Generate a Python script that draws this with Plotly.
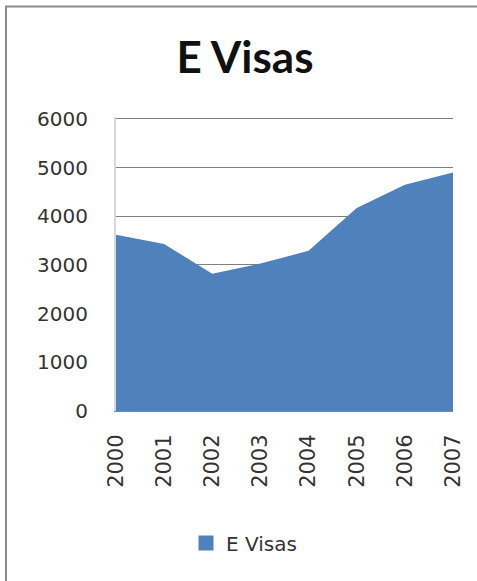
import plotly.graph_objects as go

years = ["2000", "2001", "2002", "2003", "2004", "2005", "2006", "2007"]
e_visas = [3620, 3430, 2820, 3030, 3290, 4170, 4650, 4900]
y_ticks = [0, 1000, 2000, 3000, 4000, 5000, 6000]
series_name = "E Visas"
chart_title = "E Visas"

W, H = 477, 581
L, R, T, B = 116, 453, 117, 411  # plot area pixel box
Y_MAX = 6040  # tiny headroom so the 6000 gridline is drawn

def px_x(p):
    return (p - L) / (R - L)

def px_y(p):
    return (B - p) / (B - T)

fig = go.Figure()
fig.add_trace(go.Scatter(
    x=years, y=e_visas, mode="none", fill="tozeroy",
    fillcolor="#4F81BD", showlegend=False, hoverinfo="x+y",
))
# legend entry (square swatch)
fig.add_trace(go.Scatter(
    x=[None], y=[None], mode="markers", name=series_name,
    marker=dict(symbol="square", size=15, color="#4F81BD"),
))

border = "#8A8A8A"
fig.update_layout(
    width=W, height=H,
    margin=dict(l=L, r=W - R, t=T, b=H - B),
    paper_bgcolor="white", plot_bgcolor="white",
    title=dict(
        text="<b>" + chart_title + "</b>",
        x=245 / W, xanchor="center",
        y=1 - 58 / H, yanchor="middle",
        font=dict(family="Lato", size=44, color="#111111"),
    ),
    xaxis=dict(
        type="category", range=[0, len(years) - 1],
        tickangle=-90, showgrid=False, zeroline=False,
        showline=True, linecolor="#868686", linewidth=1,
        ticks="", ticklabelstandoff=14,
        tickfont=dict(family="DejaVu Sans", size=21, color="#333333"),
    ),
    yaxis=dict(
        range=[0, Y_MAX], tickvals=y_ticks,
        showgrid=True, gridcolor="#7F7F7F", gridwidth=1.3,
        zeroline=False, showline=True, linecolor="#D9D9D9", linewidth=2,
        ticks="", ticklabelstandoff=22,
        tickfont=dict(family="DejaVu Sans", size=20, color="#333333"),
    ),
    legend=dict(
        x=px_x(186), xanchor="left", y=px_y(543), yanchor="middle",
        font=dict(family="DejaVu Sans", size=20, color="#333333"),
        bgcolor="rgba(0,0,0,0)", itemwidth=30,
    ),
    shapes=[
        dict(type="line", xref="paper", yref="paper",
             x0=px_x(6), x1=px_x(6), y0=px_y(6), y1=px_y(600),
             line=dict(color=border, width=2)),
        dict(type="line", xref="paper", yref="paper",
             x0=px_x(5), x1=px_x(490), y0=px_y(6.5), y1=px_y(6.5),
             line=dict(color=border, width=2)),
    ],
)

fig.write_html(
    "out.html",
    config={"displayModeBar": False},
    post_script="document.body.style.margin='0';document.body.style.overflow='hidden';",
)
